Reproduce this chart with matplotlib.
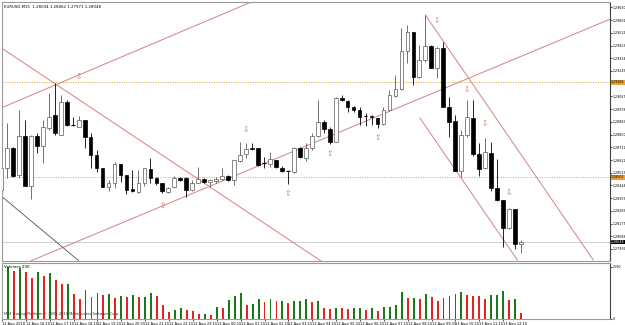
import matplotlib
matplotlib.use("Agg")
import matplotlib.pyplot as plt
from matplotlib.patches import Rectangle
import numpy as np

symbol = "EURUSD,M15"

# OHLC in broker points (price * 1e5)
open_pts = [128412,128566,128706,128517,128790,128440,128790,128720,128846,128937,
            128797,129028,128867,128853,128902,128783,128657,128566,128433,128461,
            128594,128517,128419,128398,128461,128559,128496,128461,128398,128433,
            128496,128496,128412,128461,128489,128468,128475,128489,128510,128482,
            128615,128664,128706,128706,128601,128594,128622,128566,128545,128538,
            128706,128636,128706,128790,128888,128839,128748,129056,129035,128993,
            128972,128930,128930,128916,128874,128972,129070,129119,129385,129518,
            129203,129322,129420,129266,129406,128993,128895,128545,128797,128916,
            128664,128566,128671,128426,128342,128146,128279,128034]
high_pts = [128643,128881,128713,128972,128902,128797,128811,128902,129091,129161,
            129077,129042,128923,128930,128902,128811,128692,128566,128482,128608,
            128594,128517,128552,128552,128566,128636,128503,128461,128433,128510,
            128503,128503,128482,128573,128496,128489,128503,128566,128517,128622,
            128748,128741,128741,128706,128643,128678,128622,128580,128552,128713,
            128713,128741,128811,129042,128902,128853,129063,129077,129042,129000,
            128993,128951,128937,128916,128993,129112,129217,129546,129567,129518,
            129427,129637,129427,129413,129448,129063,128937,128832,129042,129042,
            128741,128776,128748,128629,128342,128286,128279,128062]
low_pts = [128251,128496,128503,128496,128440,128349,128671,128601,128832,128797,
           128797,128860,128860,128853,128706,128566,128538,128433,128405,128426,
           128468,128384,128398,128391,128440,128461,128447,128391,128391,128426,
           128475,128363,128405,128461,128461,128433,128461,128482,128475,128447,
           128608,128636,128692,128580,128566,128573,128566,128538,128454,128531,
           128636,128615,128692,128783,128811,128734,128748,129035,128958,128958,
           128867,128860,128867,128846,128867,128965,129063,129112,129301,129147,
           129196,129308,129266,129196,128993,128783,128545,128503,128783,128650,
           128510,128559,128405,128335,128013,128139,127999,127971]
close_pts = [128566,128706,128510,128790,128440,128790,128720,128853,128923,128811,
             129028,128867,128864,128902,128783,128657,128566,128433,128461,128594,
             128517,128412,128405,128461,128566,128496,128461,128405,128426,128496,
             128482,128412,128461,128489,128468,128482,128489,128510,128482,128622,
             128657,128699,128699,128587,128601,128629,128573,128545,128545,128706,
             128643,128706,128790,128888,128839,128748,129056,129042,128993,128972,
             128923,128930,128923,128874,128972,129077,129119,129385,129518,129203,
             129322,129420,129266,129406,128993,128888,128545,128797,128923,128664,
             128559,128678,128426,128342,128146,128279,128034,128048]

volumes = [2175,2590,2375,2510,2340,2040,2310,2140,2260,1925,
           1710,1740,1210,960,1425,1090,1260,1175,1210,1040,
           1140,1090,1175,1090,1100,1260,1140,675,340,425,
           510,425,375,225,250,175,590,510,925,1140,
           1260,675,710,960,810,975,875,900,760,875,
           890,960,840,860,540,475,540,510,475,510,
           540,425,540,375,560,590,675,1340,1010,1040,
           975,1210,1090,875,1040,1125,1210,1340,1175,1150,
           1125,975,1175,1200,1390,925,975,290]

time_labels = ["12 Aug 2010","12 Aug 16:15","12 Aug 17:15","12 Aug 18:15","12 Aug 19:15",
               "12 Aug 20:15","12 Aug 21:15","12 Aug 22:15","12 Aug 23:15","13 Aug 00:15",
               "13 Aug 01:15","13 Aug 02:15","13 Aug 03:15","13 Aug 04:15","13 Aug 05:15",
               "13 Aug 06:15","13 Aug 07:15","13 Aug 08:15","13 Aug 09:15","13 Aug 10:15",
               "13 Aug 11:15","13 Aug 12:15"]
label_bars = list(range(0, 88, 4))

price_ticks = [1.29690,1.29601,1.29512,1.29423,1.29334,1.29245,1.29156,1.29067,1.28978,1.28889,
               1.28800,1.28711,1.28622,1.28533,1.28444,1.28355,1.28266,1.28177,1.28088,1.27999]

h_levels = [1.29166, 1.28501]

# trendline anchors (bar, price)
trendlines = [
    [(0, 1.28986), (43, 1.29748)],
    [(0, 1.29408), (54, 1.27902)],
    [(5.0, 1.27916), (102.5, 1.29618)],
    [(71, 1.29637), (99.1, 1.27922)],
    [(70.1, 1.28916), (86.4, 1.27922)],
]
dark_line = [(-1, 1.28406), (13, 1.27917)]

down_arrow_bars = [13, 41, 73, 78, 81, 85]
down_arrow_prices = [1.29203, 1.28832, 1.29595, 1.29112, 1.28874, 1.28391]
up_arrow_bars = [27, 48, 55, 63]
up_arrow_prices = [1.28307, 1.28384, 1.28664, 1.28783]

O = np.array(open_pts) / 1e5
Hh = np.array(high_pts) / 1e5
L = np.array(low_pts) / 1e5
C = np.array(close_pts) / 1e5
V = np.array(volumes)
n = len(O)
bars = np.arange(n)

W, Hpx = 625, 325
fig = plt.figure(figsize=(6.25, 3.25), dpi=100)
fig.patch.set_facecolor("white")

def rect(x0, y0, x1, y1):
    return [x0 / W, 1 - y1 / Hpx, (x1 - x0) / W, (y1 - y0) / Hpx]

ax = fig.add_axes(rect(2, 2, 610, 261))
axv = fig.add_axes(rect(2, 263, 610, 318.5))

fs = 2.6
fs_r = 2.3
line_col = "#d48a8a"

for a in (ax, axv):
    a.set_facecolor("white")
    for s in ("left", "top", "bottom"):
        a.spines[s].set_color("#9a9a9a")
        a.spines[s].set_linewidth(0.8)
    a.spines["right"].set_color("#404040")
    a.spines["right"].set_linewidth(0.8)
    a.set_xlim(0.17, 101.9)

# candles
bw = 0.62
for i in bars:
    bull = C[i] > O[i]
    ec = "#5a5a5a" if bull else "black"
    ax.vlines(i, L[i], Hh[i], color=ec, linewidth=0.6, zorder=3)
    lo, hi = min(O[i], C[i]), max(O[i], C[i])
    if hi - lo < 0.00003:
        ax.hlines((lo + hi) / 2, i - bw / 2, i + bw / 2, color=ec, linewidth=0.8, zorder=4)
    else:
        ax.add_patch(Rectangle((i - bw / 2, lo), bw, hi - lo,
                               facecolor="white" if bull else "black",
                               edgecolor=ec, linewidth=0.5, zorder=4))

# horizontal levels and bid line
for lv in h_levels:
    ax.axhline(lv, color="#e0a040", linestyle=(0, (1, 1.5)), linewidth=0.7, zorder=2)
ax.axhline(C[-1], color="#c8c8c8", linewidth=0.6, zorder=1)

# trend lines
for (p0, p1) in trendlines:
    ax.plot([p0[0], p1[0]], [p0[1], p1[1]], color=line_col, linewidth=0.75, zorder=2)
ax.plot([dark_line[0][0], dark_line[1][0]], [dark_line[0][1], dark_line[1][1]],
        color="#505050", linewidth=0.6, zorder=2)

# arrows
for b, p in zip(down_arrow_bars, down_arrow_prices):
    ax.text(b, p, "\u21e9", color="#d06a6a", fontsize=5.5, ha="center", va="center", zorder=5)
for b, p in zip(up_arrow_bars, up_arrow_prices):
    ax.text(b, p, "\u21e7", color="#d06a6a", fontsize=5.5, ha="center", va="center", zorder=5)

ax.set_ylim(1.27915, 1.29728)
ax.yaxis.tick_right()
ax.set_yticks(price_ticks)
# a tick label hidden beneath a highlighted level label is left blank
tick_text = []
for t in price_ticks:
    covered = any(abs(t - lv) < 0.00020 for lv in h_levels)
    tick_text.append("" if covered else f"{t:.5f}")
ax.set_yticklabels(tick_text)
ax.tick_params(axis="y", labelsize=fs_r, length=1.5, width=0.5, pad=0.6)
ax.tick_params(axis="x", bottom=False, labelbottom=False)

# highlighted labels
for lv in h_levels:
    ax.annotate(f"{lv:.5f}", xy=(1, lv), xycoords=("axes fraction", "data"),
                xytext=(0.8, 0), textcoords="offset points", fontsize=fs_r, va="center",
                ha="left", color="black",
                bbox=dict(boxstyle="square,pad=0.12", fc="#f0a030", ec="none"),
                annotation_clip=False, zorder=10)
ax.annotate(f"{C[-1]:.5f}", xy=(1, C[-1]), xycoords=("axes fraction", "data"),
            xytext=(0.8, 0), textcoords="offset points", fontsize=fs_r, va="center",
            ha="left", color="white",
            bbox=dict(boxstyle="square,pad=0.12", fc="black", ec="none"),
            annotation_clip=False, zorder=10)

ax.text(0.004, 0.988, f"{symbol}  {O[-1]:.5f} {Hh[-1]:.5f} {L[-1]:.5f} {C[-1]:.5f}",
        transform=ax.transAxes, fontsize=2.8, ha="left", va="top")

# volumes
cols = ["#1a7a1a"] + ["#1a7a1a" if V[i] > V[i - 1] else "#e02424" for i in range(1, n)]
axv.bar(bars, V, width=0.32, color=cols, linewidth=0)
axv.set_ylim(0, 2775)
axv.yaxis.tick_right()
axv.set_yticks([0, V.max()])
axv.set_yticklabels(["0", str(V.max())])
axv.tick_params(axis="y", labelsize=fs_r, length=1.5, width=0.5, pad=0.6)
axv.set_xticks(label_bars)
axv.set_xticklabels(time_labels, ha="left")
axv.tick_params(axis="x", labelsize=fs, length=1.5, width=0.5, pad=0.8)
axv.text(0.004, 0.96, f"Volumes {V[-1]}", transform=axv.transAxes, fontsize=2.8,
         ha="left", va="top")
axv.text(0.004, 0.04, "MT4 Trading Platform \u00a9 2001-2010 MetaQuotes Software Corp.",
         transform=axv.transAxes, fontsize=fs, ha="left", va="bottom", color="#303030")

fig.savefig("out.png", dpi=100)
